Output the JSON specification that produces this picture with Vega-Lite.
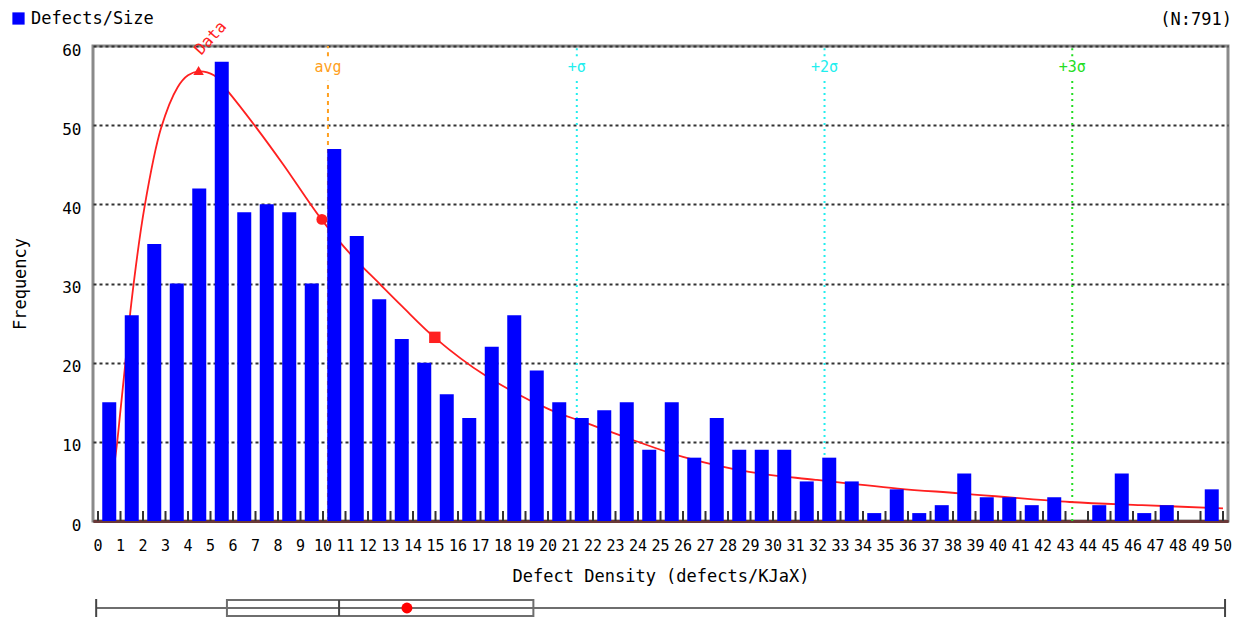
{
  "$schema": "https://vega.github.io/schema/vega-lite/v6.json",
  "background": "white",
  "padding": {"left": 10, "top": 9, "right": 10, "bottom": 0},
  "spacing": 12,
  "config": {
    "font": "DejaVu Sans Mono",
    "title": {"font": "DejaVu Sans Mono", "fontWeight": "normal"}
  },
  "datasets": {
    "bars": [
      {"density": 0.5, "count": 15}, {"density": 1.5, "count": 26}, {"density": 2.5, "count": 35}, {"density": 3.5, "count": 30},
      {"density": 4.5, "count": 42}, {"density": 5.5, "count": 58}, {"density": 6.5, "count": 39}, {"density": 7.5, "count": 40},
      {"density": 8.5, "count": 39}, {"density": 9.5, "count": 30}, {"density": 10.5, "count": 47}, {"density": 11.5, "count": 36},
      {"density": 12.5, "count": 28}, {"density": 13.5, "count": 23}, {"density": 14.5, "count": 20}, {"density": 15.5, "count": 16},
      {"density": 16.5, "count": 13}, {"density": 17.5, "count": 22}, {"density": 18.5, "count": 26}, {"density": 19.5, "count": 19},
      {"density": 20.5, "count": 15}, {"density": 21.5, "count": 13}, {"density": 22.5, "count": 14}, {"density": 23.5, "count": 15},
      {"density": 24.5, "count": 9}, {"density": 25.5, "count": 15}, {"density": 26.5, "count": 8}, {"density": 27.5, "count": 13},
      {"density": 28.5, "count": 9}, {"density": 29.5, "count": 9}, {"density": 30.5, "count": 9}, {"density": 31.5, "count": 5},
      {"density": 32.5, "count": 8}, {"density": 33.5, "count": 5}, {"density": 34.5, "count": 1}, {"density": 35.5, "count": 4},
      {"density": 36.5, "count": 1}, {"density": 37.5, "count": 2}, {"density": 38.5, "count": 6}, {"density": 39.5, "count": 3},
      {"density": 40.5, "count": 3}, {"density": 41.5, "count": 2}, {"density": 42.5, "count": 3}, {"density": 43.5, "count": 0},
      {"density": 44.5, "count": 2}, {"density": 45.5, "count": 6}, {"density": 46.5, "count": 1}, {"density": 47.5, "count": 2},
      {"density": 48.5, "count": 0}, {"density": 49.5, "count": 4}
    ],
    "xticks": [
      {"v": 0}, {"v": 1}, {"v": 2}, {"v": 3}, {"v": 4}, {"v": 5}, {"v": 6}, {"v": 7}, {"v": 8}, {"v": 9},
      {"v": 10}, {"v": 11}, {"v": 12}, {"v": 13}, {"v": 14}, {"v": 15}, {"v": 16}, {"v": 17}, {"v": 18}, {"v": 19},
      {"v": 20}, {"v": 21}, {"v": 22}, {"v": 23}, {"v": 24}, {"v": 25}, {"v": 26}, {"v": 27}, {"v": 28}, {"v": 29},
      {"v": 30}, {"v": 31}, {"v": 32}, {"v": 33}, {"v": 34}, {"v": 35}, {"v": 36}, {"v": 37}, {"v": 38}, {"v": 39},
      {"v": 40}, {"v": 41}, {"v": 42}, {"v": 43}, {"v": 44}, {"v": 45}, {"v": 46}, {"v": 47}, {"v": 48}, {"v": 49},
      {"v": 50}
    ],
    "curve": [
      {"x": 0.4, "y": 1.5}, {"x": 0.79, "y": 8.5}, {"x": 1.0, "y": 14}, {"x": 1.2, "y": 19.5}, {"x": 1.48, "y": 27.5},
      {"x": 2.07, "y": 39.7}, {"x": 2.8, "y": 49.6}, {"x": 3.54, "y": 54.8}, {"x": 4.0, "y": 56.3}, {"x": 4.49, "y": 56.8},
      {"x": 5.15, "y": 56.3}, {"x": 5.74, "y": 54.4}, {"x": 7.06, "y": 49.6}, {"x": 8.24, "y": 45.0}, {"x": 9.93, "y": 38.1},
      {"x": 11.32, "y": 33.4}, {"x": 12.5, "y": 30.0}, {"x": 13.52, "y": 27.1}, {"x": 14.99, "y": 23.1}, {"x": 17.2, "y": 18.4},
      {"x": 20.13, "y": 14.0}, {"x": 21.6, "y": 12.5}, {"x": 23.8, "y": 10.2}, {"x": 26.0, "y": 8.1}, {"x": 28.94, "y": 6.2},
      {"x": 31.9, "y": 5.2}, {"x": 35.55, "y": 4.1}, {"x": 38.3, "y": 3.5}, {"x": 43.19, "y": 2.4}, {"x": 46.4, "y": 2.0},
      {"x": 50, "y": 1.6}
    ],
    "markers": [
      {"x": 4.47, "y": 56.9, "kind": "mode"},
      {"x": 9.95, "y": 38.1, "kind": "mean"},
      {"x": 14.97, "y": 23.2, "kind": "median"}
    ],
    "refs": [
      {"label": "avg", "value": 10.22},
      {"label": "+σ", "value": 21.28},
      {"label": "+2σ", "value": 32.29},
      {"label": "+3σ", "value": 43.3}
    ],
    "notes": [
      {"text": "Data", "x": 5.0, "y": 61.0}
    ],
    "box": [
      {"min": 0.14, "q1": 5.9, "median": 10.84, "q3": 19.4, "max": 49.87, "mean": 13.83}
    ]
  },
  "vconcat": [
    {
      "width": 1135,
      "height": 475,
      "view": {"stroke": "#8a8a8a", "strokeWidth": 3},
      "title": {"text": "(N:791)", "anchor": "end", "font": "DejaVu Sans Mono", "fontSize": 17, "fontWeight": "normal", "color": "#000", "offset": -11},
      "layer": [
        {
          "data": {"name": "refs"},
          "mark": {"type": "rule", "strokeWidth": 2},
          "encoding": {
            "x": {"field": "value", "type": "quantitative", "scale": {"domain": [0, 50], "nice": false},
              "axis": {
                "title": "Defect Density (defects/KJaX)", "titleFont": "DejaVu Sans Mono", "titleFontSize": 17, "titleFontWeight": "normal", "titleColor": "#000", "titlePadding": 47,
                "labels": false, "ticks": false,
                "domainColor": "#6a3838", "domainWidth": 3, "grid": false
              }
            },
            "y": {"datum": 0, "type": "quantitative", "scale": {"domain": [0, 60], "nice": false},
              "axis": {
                "values": [0, 10, 20, 30, 40, 50, 60],
                "title": "Frequency", "titleFont": "DejaVu Sans Mono", "titleFontSize": 17, "titleFontWeight": "normal", "titleColor": "#000", "titlePadding": 32,
                "labelFont": "DejaVu Sans Mono", "labelFontSize": 16, "labelColor": "#000", "labelPadding": 12, "labelOffset": 4,
                "ticks": false, "domain": false,
                "grid": true, "gridDash": [3, 3], "gridColor": "#333", "gridWidth": 2
              }
            },
            "y2": {"datum": 55.6},
            "color": {"field": "label", "type": "nominal",
              "scale": {"domain": ["Defects/Size", "Data", "avg", "+σ", "+2σ", "+3σ"], "range": ["#0000ff", "#ff2020", "#ffa020", "#22eeee", "#22eeee", "#22dd22"]},
              "legend": {"values": ["Defects/Size"], "title": null, "orient": "none", "legendX": -83, "legendY": -36, "symbolType": "square", "symbolSize": 150, "symbolFillColor": "#0000ff", "symbolStrokeWidth": 0, "labelFont": "DejaVu Sans Mono", "labelFontSize": 17, "labelColor": "#000", "labelOffset": 4, "padding": 0}},
            "strokeDash": {"field": "label", "type": "nominal", "scale": {"domain": ["avg", "+σ", "+2σ", "+3σ"], "range": [[4, 4], [2, 4], [2, 4], [2, 4]]}, "legend": null}
          }
        },
        {
          "data": {"name": "refs"},
          "mark": {"type": "rule", "strokeWidth": 2},
          "encoding": {
            "x": {"field": "value", "type": "quantitative"},
            "y": {"datum": 58.7, "type": "quantitative"},
            "y2": {"datum": 60},
            "color": {"field": "label", "type": "nominal"},
            "strokeDash": {"field": "label", "type": "nominal", "legend": null}
          }
        },
        {
          "data": {"name": "curve"},
          "mark": {"type": "line", "strokeWidth": 1.8, "interpolate": "catmull-rom"},
          "encoding": {
            "x": {"field": "x", "type": "quantitative"},
            "y": {"field": "y", "type": "quantitative"},
            "color": {"datum": "Data", "type": "nominal"}
          }
        },
        {
          "data": {"name": "bars"},
          "mark": {"type": "bar", "size": 14},
          "encoding": {
            "x": {"field": "density", "type": "quantitative"},
            "y": {"field": "count", "type": "quantitative"},
            "color": {"datum": "Defects/Size", "type": "nominal"}
          }
        },
        {
          "data": {"name": "xticks"},
          "mark": {"type": "rule", "color": "#333333", "strokeWidth": 2},
          "encoding": {
            "x": {"field": "v", "type": "quantitative"},
            "y": {"datum": 0, "type": "quantitative"},
            "y2": {"datum": 1.26}
          }
        },
        {
          "data": {"name": "xticks"},
          "mark": {"type": "text", "font": "DejaVu Sans Mono", "fontSize": 15, "color": "#000000", "align": "center", "baseline": "middle"},
          "encoding": {
            "x": {"field": "v", "type": "quantitative"},
            "y": {"datum": -3.16, "type": "quantitative"},
            "text": {"field": "v", "type": "quantitative"}
          }
        },
        {
          "data": {"name": "markers"},
          "mark": {"type": "point", "filled": true, "opacity": 1},
          "encoding": {
            "x": {"field": "x", "type": "quantitative"},
            "y": {"field": "y", "type": "quantitative"},
            "shape": {"field": "kind", "type": "nominal", "scale": {"domain": ["mode", "mean", "median"], "range": ["triangle-up", "circle", "square"]}, "legend": null},
            "size": {"field": "kind", "type": "nominal", "scale": {"domain": ["mode", "mean", "median"], "range": [110, 130, 150]}, "legend": null},
            "color": {"datum": "Data", "type": "nominal"}
          }
        },
        {
          "data": {"name": "refs"},
          "mark": {"type": "text", "font": "DejaVu Sans Mono", "fontSize": 15, "baseline": "middle", "align": "center"},
          "encoding": {
            "x": {"field": "value", "type": "quantitative"},
            "y": {"datum": 57.3, "type": "quantitative"},
            "text": {"field": "label"},
            "color": {"field": "label", "type": "nominal"}
          }
        },
        {
          "data": {"name": "notes"},
          "mark": {"type": "text", "font": "DejaVu Sans Mono", "fontSize": 16, "angle": 312, "align": "center", "baseline": "middle"},
          "encoding": {
            "x": {"field": "x", "type": "quantitative"},
            "y": {"field": "y", "type": "quantitative"},
            "text": {"field": "text"},
            "color": {"field": "text", "type": "nominal"}
          }
        }
      ]
    },
    {
      "width": 1135,
      "height": 20,
      "view": {"stroke": null},
      "data": {"name": "box"},
      "layer": [
        {
          "mark": {"type": "rect", "fill": "#ffffff", "stroke": "#6e6e6e", "strokeWidth": 2},
          "encoding": {
            "x": {"field": "q1", "type": "quantitative", "scale": {"domain": [0, 50], "nice": false}, "axis": null},
            "x2": {"field": "q3"},
            "y": {"datum": -0.8, "type": "quantitative", "scale": {"domain": [-1, 1]}, "axis": null},
            "y2": {"datum": 0.8}
          }
        },
        {
          "mark": {"type": "rule", "color": "#6e6e6e", "strokeWidth": 2},
          "encoding": {
            "x": {"field": "min", "type": "quantitative"},
            "x2": {"field": "max"},
            "y": {"datum": 0, "type": "quantitative"}
          }
        },
        {
          "mark": {"type": "rule", "color": "#444", "strokeWidth": 2},
          "encoding": {
            "x": {"field": "min", "type": "quantitative"},
            "y": {"datum": -0.9, "type": "quantitative"},
            "y2": {"datum": 0.9}
          }
        },
        {
          "mark": {"type": "rule", "color": "#444", "strokeWidth": 2},
          "encoding": {
            "x": {"field": "max", "type": "quantitative"},
            "y": {"datum": -0.9, "type": "quantitative"},
            "y2": {"datum": 0.9}
          }
        },
        {
          "mark": {"type": "rule", "color": "#444", "strokeWidth": 2},
          "encoding": {
            "x": {"field": "median", "type": "quantitative"},
            "y": {"datum": -0.8, "type": "quantitative"},
            "y2": {"datum": 0.8}
          }
        },
        {
          "mark": {"type": "point", "filled": true, "color": "#ff0000", "size": 120, "opacity": 1},
          "encoding": {
            "x": {"field": "mean", "type": "quantitative"},
            "y": {"datum": 0, "type": "quantitative"}
          }
        }
      ]
    }
  ]
}
